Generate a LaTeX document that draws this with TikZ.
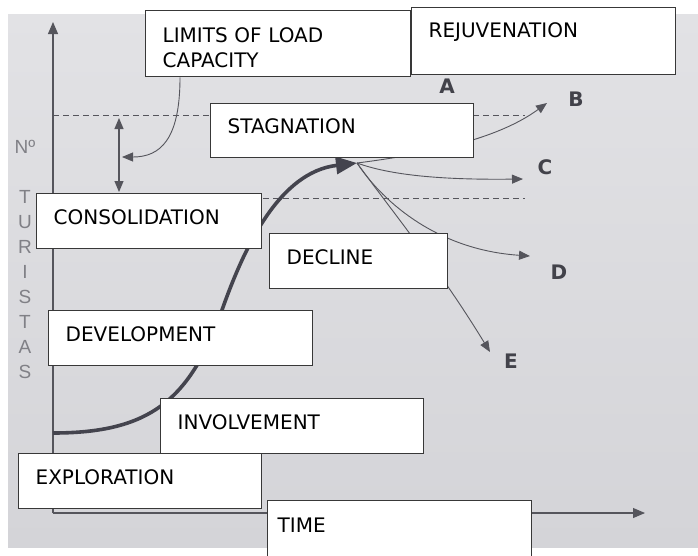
\documentclass[tikz,border=0pt]{standalone}
\usepackage{fontspec}
\setmainfont{DejaVu Sans}
\newfontfamily\axisfont{Liberation Sans}
\usetikzlibrary{arrows.meta}
\definecolor{paper}{RGB}{212,212,216}
\definecolor{paperlight}{RGB}{226,226,229}
\definecolor{inkgray}{RGB}{85,85,92}
\definecolor{curvegray}{RGB}{68,68,78}
\definecolor{axisgray}{RGB}{128,128,134}
\definecolor{lettergray}{RGB}{66,66,74}
\pgfdeclarelayer{back}
\pgfsetlayers{back,main}

\begin{document}
\begin{tikzpicture}[x=1pt, y=-1pt,
    stage/.style = {draw=black!78, line width=1.3pt, fill=white,
      anchor=north west, align=left, inner xsep=17pt, inner ysep=0pt,
      text height=31pt, text depth=24pt, font=\fontsize{20}{25}\selectfont},
    axis/.style = {draw=inkgray, line width=1.1pt, -{Triangle[length=12pt,width=10pt]}},
    limitline/.style = {draw=inkgray, line width=0.9pt, dash pattern=on 6pt off 4pt},
    growth/.style = {draw=curvegray, line width=3.6pt, -{Triangle[length=21pt,width=17pt]}},
    branch/.style = {draw=inkgray, line width=0.9pt, -{Triangle[length=11pt,width=9pt]}},
    ylab/.style = {text=axisgray, font=\axisfont\fontsize{19}{19}\selectfont},
    letter/.style = {text=lettergray, font=\bfseries\fontsize{20}{20}\selectfont}]
  \useasboundingbox (0,0) rectangle (698,555);
  \clip (0,0) rectangle (698,555);

  % axes, limits and the curve
  \coordinate (origin) at (53,513);
  \coordinate (ytip) at (53,22);
  \coordinate (xtip) at (645,513);
  \coordinate (start) at (53,433);
  \coordinate (peak) at (357,163);
  \coordinate (tipB) at (547,103);
  \coordinate (tipC) at (523,179);
  \coordinate (tipD) at (530,256);
  \coordinate (tipE) at (490,352);
  \coordinate (gaugetop) at (119,118);
  \coordinate (gaugebot) at (119,192);
  \coordinate (gaugemid) at (122,157);

  \begin{pgfonlayer}{back}
    \fill[white] (0,0) rectangle (698,555);
    \fill[top color=paperlight, bottom color=paper] (8,14) rectangle (698,547);
    \draw[limitline] (53,115) -- (525,115);
    \draw[limitline] (53,198) -- (525,198);
    \draw[axis] (origin) -- (ytip);
    \draw[axis] (origin) -- (xtip);
    \draw[inkgray, line width=1.1pt, {Triangle[length=11pt,width=9pt]}-{Triangle[length=11pt,width=9pt]}]
      (gaugetop) -- (gaugebot);
    \draw[growth] (start) .. controls (150,433) and (190,400) .. (222,310)
      .. controls (245,245) and (280,172) .. (peak);
    \draw[branch] (peak) .. controls (460,150) and (510,130) .. (tipB);
    \draw[branch] (peak) .. controls (390,175) and (440,180) .. (tipC);
    \draw[branch] (peak) .. controls (385,205) and (440,250) .. (tipD);
    \draw[branch] (peak) .. controls (395,215) and (440,270) .. (tipE);
  \end{pgfonlayer}

  % axis labels
  \node[ylab] (num) at (25,147) {Nº};
  \foreach \ch [count=\i from 0] in {T,U,R,I,S,T,A,S}
    \node[ylab] (tur\i) at (25,197+25*\i) {\ch};

  % stages
  \node[stage, text width=231pt, text height=32pt, text depth=34pt] (limits) at (145,10) {LIMITS OF LOAD\\CAPACITY};
  \node[stage, text width=230pt, text height=30pt, text depth=37pt] (rejuv) at (411,7) {REJUVENATION};
  \node[stage, text width=229pt, text height=30pt] (stag) at (210,103) {STAGNATION};
  \node[stage, text width=191pt] (consol) at (36,193) {CONSOLIDATION};
  \node[stage, text width=144pt] (decline) at (269,233) {DECLINE};
  \node[stage, text width=230pt] (devel) at (48,310) {DEVELOPMENT};
  \node[stage, text width=229pt] (involve) at (160,398) {INVOLVEMENT};
  \node[stage, text width=209pt] (explor) at (18,453) {EXPLORATION};
  \node[stage, text width=244pt, inner xsep=10pt, text height=32pt, text depth=30pt] (time) at (267,500) {TIME};

  \draw[inkgray, line width=0.9pt, -{Triangle[length=11pt,width=9pt]}]
    ([xshift=35pt]limits.south west) .. controls (180,140) and (160,157) .. (gaugemid);

  % outcomes
  \node[letter] (labA) at (447,86) {A};
  \node[letter] (labB) at (576,99) {B};
  \node[letter] (labC) at (545,167) {C};
  \node[letter] (labD) at (559,272) {D};
  \node[letter] (labE) at (511,361) {E};
\end{tikzpicture}
\end{document}
